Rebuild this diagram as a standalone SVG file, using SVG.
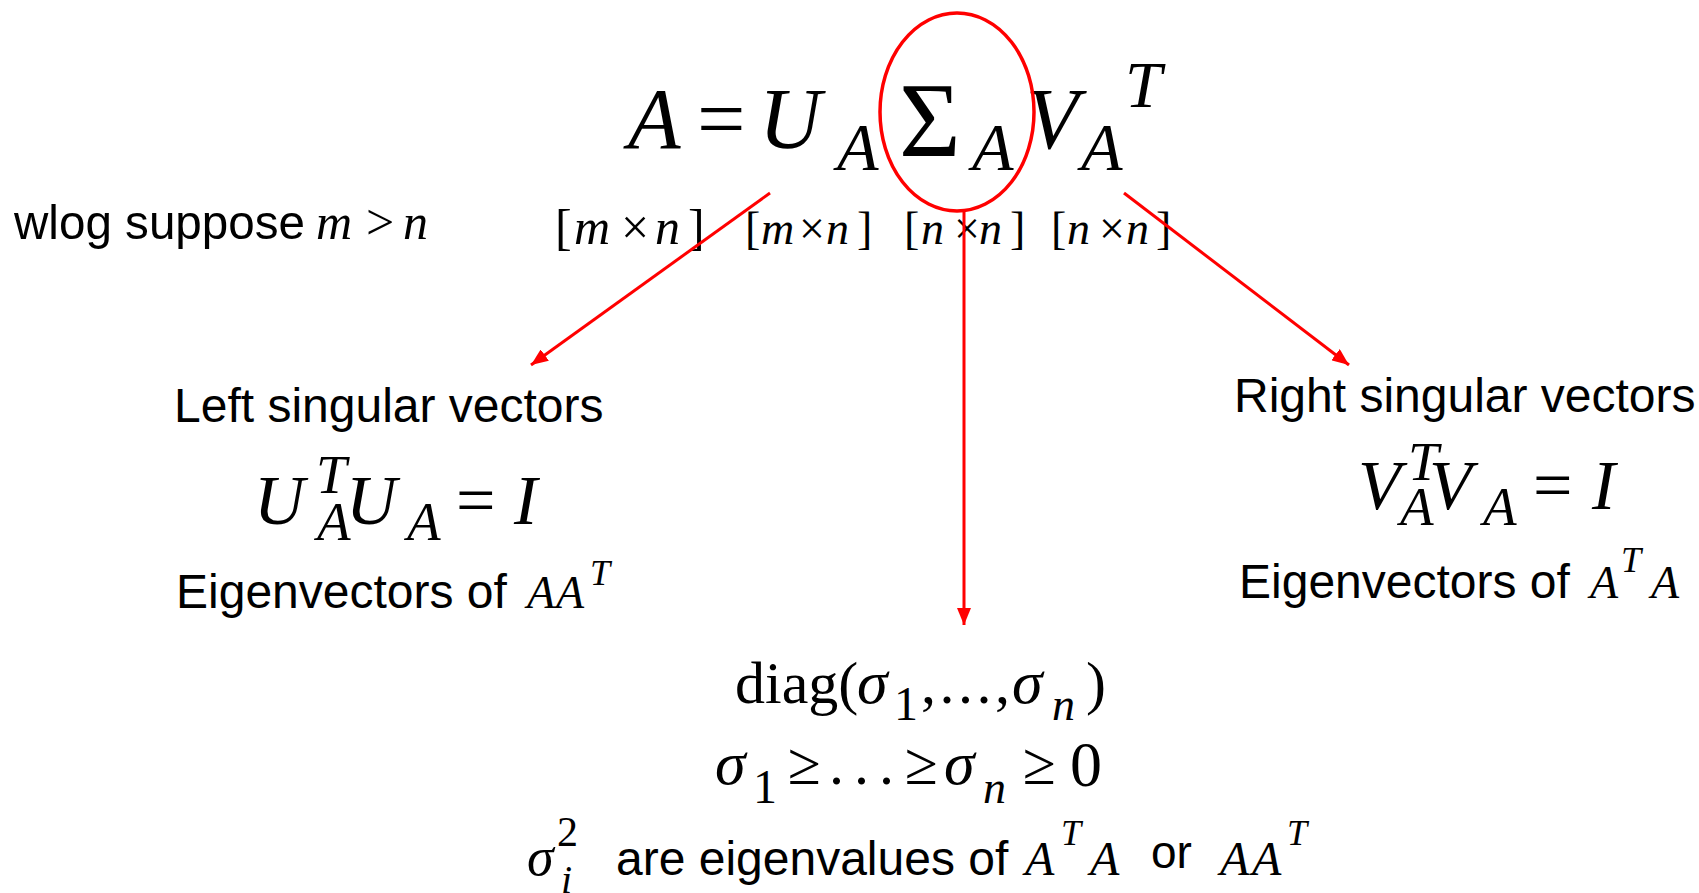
<svg xmlns="http://www.w3.org/2000/svg" width="1699" height="893" viewBox="0 0 1699 893">
<defs>
<style>
.sans{font-family:"Liberation Sans",Arial,sans-serif;fill:#000}
.serif{font-family:"Liberation Serif","Times New Roman",serif;fill:#000}
.it{font-style:italic}
.conn{stroke:#ff0000;stroke-width:3;fill:none}
</style>
<marker id="ah" markerUnits="userSpaceOnUse" markerWidth="18" markerHeight="14" refX="17" refY="7" orient="auto">
<path d="M0,0 L17,7 L0,14 z" fill="#ff0000"/>
</marker>
</defs>
<rect width="1699" height="893" fill="#fff"/>

<g id="equation">
<text class="serif it" x="628" y="148" font-size="86">A</text>
<text class="serif" x="697" y="148" font-size="86">=</text>
<text class="serif it" x="759" y="148" font-size="86">U</text>
<text class="serif it" x="837" y="170" font-size="68">A</text>
<text class="serif" x="899" y="156" font-size="106">Σ</text>
<text class="serif it" x="972" y="170" font-size="68">A</text>
<text class="serif it" x="1026" y="148" font-size="86">V</text>
<text class="serif it" x="1081" y="170" font-size="68">A</text>
<text class="serif it" x="1125" y="107" font-size="66">T</text>
</g>

<g id="sigma-highlight">
<ellipse cx="957" cy="112" rx="77" ry="99" fill="none" stroke="#ff0000" stroke-width="3.5"/>
</g>

<g id="dims">
<text class="serif" y="244" font-size="50"><tspan x="555">[</tspan><tspan class="it" x="574">m</tspan><tspan x="621">×</tspan><tspan class="it" x="655">n</tspan><tspan x="688">]</tspan></text>
<text class="serif" y="244" font-size="46"><tspan x="745">[</tspan><tspan class="it" x="761">m</tspan><tspan x="799">×</tspan><tspan class="it" x="826">n</tspan><tspan x="857">]</tspan></text>
<text class="serif" y="244" font-size="46"><tspan x="904">[</tspan><tspan class="it" x="921">n</tspan><tspan x="954">×</tspan><tspan class="it" x="979">n</tspan><tspan x="1010">]</tspan></text>
<text class="serif" y="244" font-size="46"><tspan x="1051">[</tspan><tspan class="it" x="1067">n</tspan><tspan x="1099">×</tspan><tspan class="it" x="1126">n</tspan><tspan x="1156">]</tspan></text>
</g>

<g id="wlog">
<text class="sans" x="14" y="239" font-size="49" textLength="291" lengthAdjust="spacingAndGlyphs">wlog suppose</text>
<text class="serif it" y="239" font-size="50"><tspan x="316">m</tspan><tspan class="serif" font-style="normal" x="366">&gt;</tspan><tspan x="403">n</tspan></text>
</g>

<g id="left-node">
<text class="sans" x="174" y="422" font-size="48">Left singular vectors</text>
<text class="serif it" x="254" y="524" font-size="70">U</text>
<text class="serif it" x="316" y="493" font-size="55">T</text>
<text class="serif it" x="317" y="540" font-size="55">A</text>
<text class="serif it" x="346" y="524" font-size="70">U</text>
<text class="serif it" x="407" y="540" font-size="55">A</text>
<text class="serif" x="456" y="524" font-size="70">=</text>
<text class="serif it" x="514" y="524" font-size="70">I</text>
<text class="sans" x="176" y="608" font-size="48">Eigenvectors of</text>
<text class="serif it" x="527" y="608" font-size="46">A</text>
<text class="serif it" x="556" y="608" font-size="46">A</text>
<text class="serif it" x="590" y="585" font-size="36">T</text>
</g>

<g id="right-node">
<text class="sans" x="1234" y="412" font-size="48">Right singular vectors</text>
<text class="serif it" x="1358" y="509" font-size="70">V</text>
<text class="serif it" x="1408" y="480" font-size="55">T</text>
<text class="serif it" x="1400" y="525" font-size="55">A</text>
<text class="serif it" x="1429" y="509" font-size="70">V</text>
<text class="serif it" x="1483" y="525" font-size="55">A</text>
<text class="serif" x="1533" y="509" font-size="70">=</text>
<text class="serif it" x="1592" y="509" font-size="70">I</text>
<text class="sans" x="1239" y="598" font-size="48">Eigenvectors of</text>
<text class="serif it" x="1590" y="598" font-size="46">A</text>
<text class="serif it" x="1621" y="572" font-size="36">T</text>
<text class="serif it" x="1651" y="598" font-size="46">A</text>
</g>

<g id="bottom-node">
<text class="serif" x="735" y="703" font-size="60">diag(</text>
<text class="serif it" x="857" y="703" font-size="62">σ</text>
<text class="serif" x="894" y="720" font-size="48">1</text>
<text class="serif" x="921" y="703" font-size="60" letter-spacing="3.5">,...,</text>
<text class="serif it" x="1012" y="703" font-size="62">σ</text>
<text class="serif it" x="1052" y="720" font-size="46">n</text>
<text class="serif" x="1086" y="703" font-size="60">)</text>

<text class="serif it" x="715" y="784" font-size="62">σ</text>
<text class="serif" x="753" y="803" font-size="48">1</text>
<text class="serif" x="788" y="784" font-size="60">≥</text>
<text class="serif" y="784" font-size="60"><tspan x="829">.</tspan><tspan x="854">.</tspan><tspan x="879">.</tspan></text>
<text class="serif" x="905" y="784" font-size="60">≥</text>
<text class="serif it" x="944" y="784" font-size="62">σ</text>
<text class="serif it" x="983" y="803" font-size="46">n</text>
<text class="serif" x="1023" y="784" font-size="60">≥</text>
<text class="serif" x="1070" y="786" font-size="64">0</text>

<text class="serif it" x="527" y="875" font-size="54">σ</text>
<text class="serif" x="557" y="846" font-size="42">2</text>
<text class="serif it" x="561" y="893" font-size="40">i</text>
<text class="sans" x="616" y="875" font-size="48">are eigenvalues of</text>
<text class="serif it" x="1025" y="875" font-size="48">A</text>
<text class="serif it" x="1061" y="845" font-size="36">T</text>
<text class="serif it" x="1090" y="875" font-size="48">A</text>
<text class="sans" x="1151" y="868" font-size="46">or</text>
<text class="serif it" x="1220" y="875" font-size="48">A</text>
<text class="serif it" x="1252" y="875" font-size="48">A</text>
<text class="serif it" x="1287" y="845" font-size="36">T</text>
</g>

<g id="connectors">
<line class="conn" x1="770" y1="193" x2="531" y2="365" marker-end="url(#ah)"/>
<line class="conn" x1="964" y1="209" x2="964" y2="625" marker-end="url(#ah)"/>
<line class="conn" x1="1124" y1="193" x2="1349" y2="365" marker-end="url(#ah)"/>
</g>
</svg>
